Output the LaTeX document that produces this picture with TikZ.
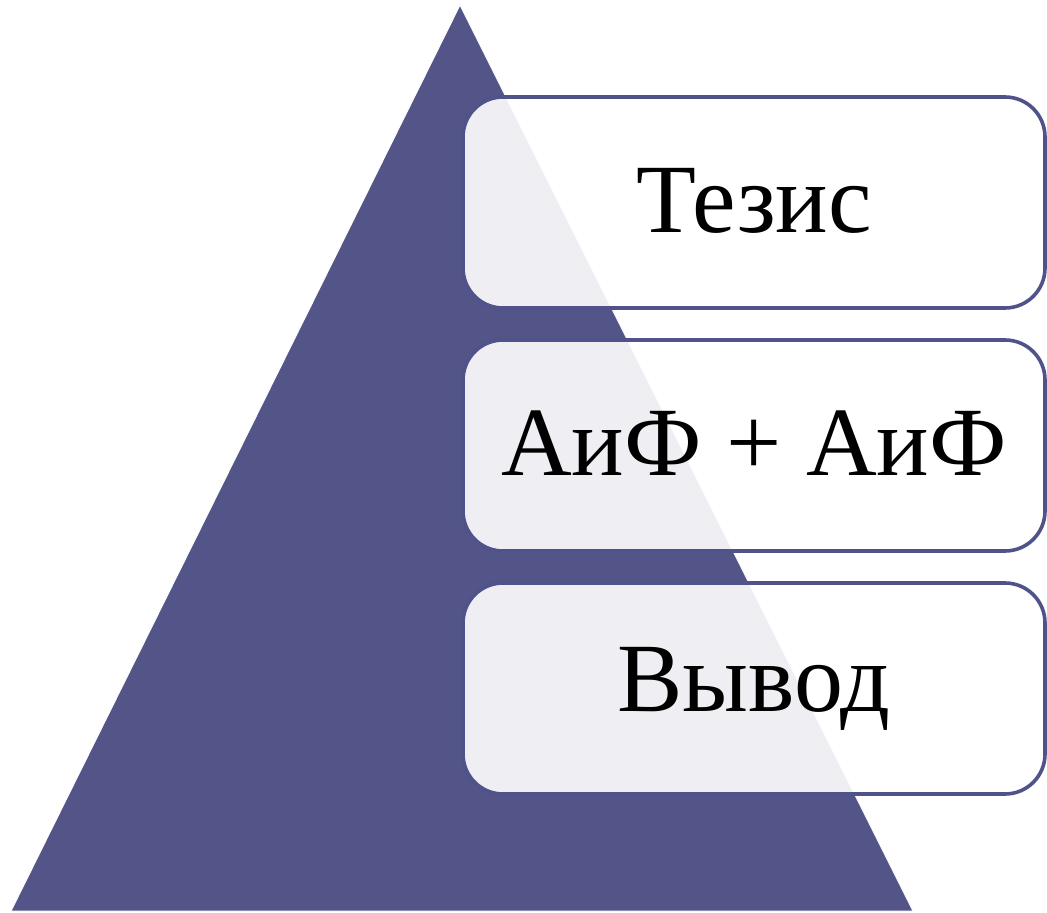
\documentclass[tikz,border=0pt]{standalone}
\usepackage{fontspec}
\setmainfont{Liberation Serif}
\usepackage{tikz}
\usetikzlibrary{shapes.geometric, arrows}
\definecolor{pyr}{HTML}{535487}
\definecolor{pyrline}{HTML}{50528A}
\tikzstyle{level} = [rectangle, rounded corners=20pt, minimum width=291pt, minimum height=105.5pt, text centered, draw=pyrline, line width=1.8pt, fill=white, fill opacity=0.9, text opacity=1, font=\fontsize{49}{59}\selectfont]

\begin{document}
\begin{tikzpicture}[x=0.5pt,y=-0.5pt,node distance=121.5pt]
\useasboundingbox (0,0) rectangle (1047,913);
\fill [pyr, draw=white, line width=0.5pt] (460,5) -- (913,911) -- (11,911) -- cycle;
\node (thesis) [level] at (754,202.5) {\raisebox{2pt}{Тезис}};
\node (args) [level, below of=thesis] {\raisebox{2pt}{АиФ + АиФ}};
\node (concl) [level, below of=args] {\raisebox{2pt}{Вывод}};
\end{tikzpicture}
\end{document}
